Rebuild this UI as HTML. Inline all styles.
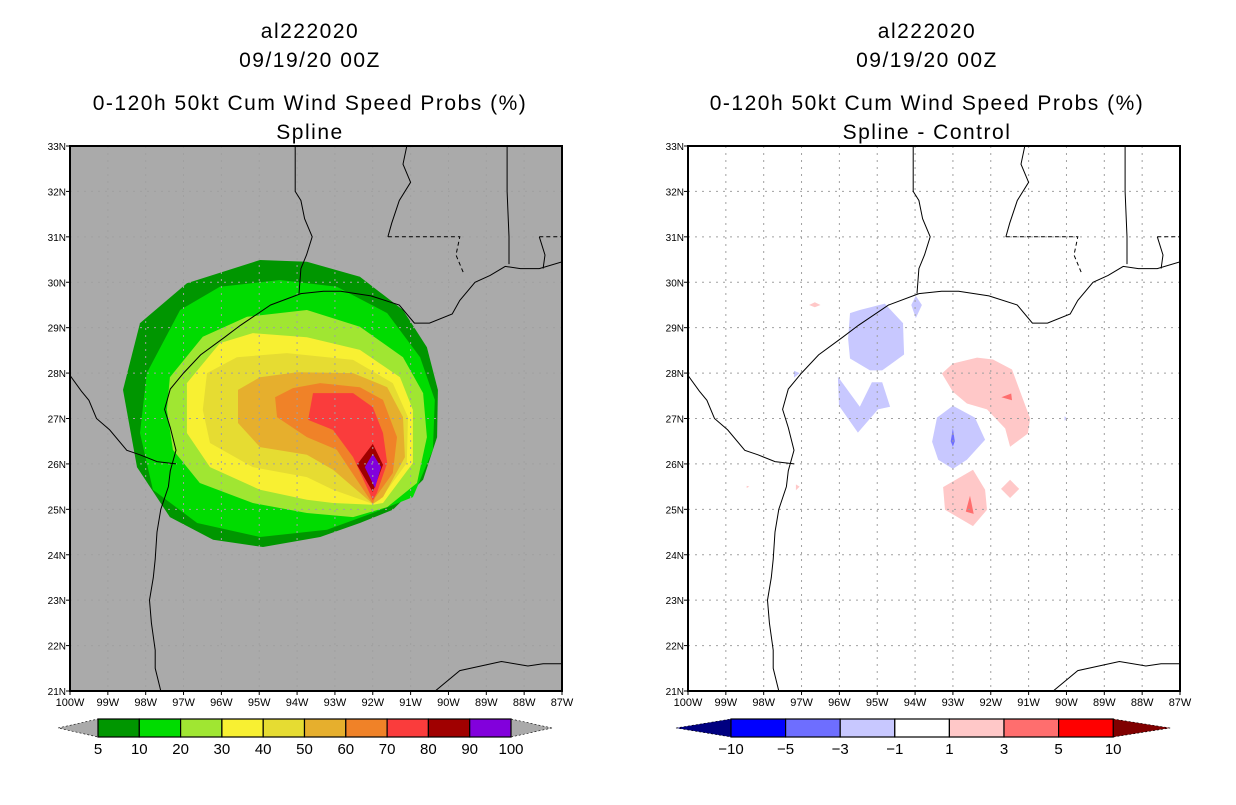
<!DOCTYPE html>
<html><head><meta charset="utf-8"><style>
html,body{margin:0;padding:0;background:#fff;}
svg text{font-family:"Liberation Sans",sans-serif;}
</style></head><body>
<svg id="svg" width="1236" height="800" viewBox="0 0 1236 800" xmlns="http://www.w3.org/2000/svg">
<rect width="1236" height="800" fill="#fff"/>
<g id="left"></g>
<g id="right"></g>
<g font-size="21" text-anchor="middle" letter-spacing="1.5">
<text x="310" y="38">al222020</text><text x="310" y="67">09/19/20 00Z</text>
<text x="310" y="110">0-120h 50kt Cum Wind Speed Probs (%)</text><text x="310" y="139">Spline</text></g>
<g font-size="21" text-anchor="middle" letter-spacing="1.5">
<text x="927" y="38">al222020</text><text x="927" y="67">09/19/20 00Z</text>
<text x="927" y="110">0-120h 50kt Cum Wind Speed Probs (%)</text><text x="927" y="139">Spline - Control</text></g>
<g id="cbL"></g>
<g id="cbR"></g>
</svg>
<script>
const NS="http://www.w3.org/2000/svg";
const lonTicks=[-100,-99,-98,-97,-96,-95,-94,-93,-92,-91,-90,-89,-88,-87];
const latTicks=[21,22,23,24,25,26,27,28,29,30,31,32,33];
const probLevels=[5,10,20,30,40,50,60,70,80,90];
const probColors=["#009600","#00dc00","#a0e632","#f8f032","#e6dc32","#e6af2d","#f08228","#fa3c3c","#a00000","#8200dc"];
const probPolys=[
[[-98.6,27.63],[-98.15,29.1],[-96.91,29.98],[-94.98,30.49],[-93.74,30.45],[-92.34,30.12],[-91.2,29.39],[-90.57,28.57],[-90.28,27.63],[-90.3,26.59],[-90.67,25.65],[-91.47,24.99],[-92.34,24.7],[-93.39,24.39],[-94.9,24.17],[-96.22,24.33],[-97.36,24.83],[-98.23,25.93]],
[[-97.97,28.0],[-97.09,29.39],[-96.04,29.9],[-94.45,30.05],[-92.95,29.9],[-91.62,29.32],[-90.75,28.35],[-90.36,27.41],[-90.41,26.31],[-90.94,25.27],[-92.0,24.92],[-93.21,24.55],[-94.98,24.39],[-96.64,24.7],[-97.81,25.43],[-98.15,26.68]],
[[-97.36,27.91],[-96.49,28.8],[-95.32,29.24],[-93.74,29.39],[-92.34,29.02],[-91.2,28.35],[-90.67,27.56],[-90.57,26.59],[-90.83,25.58],[-91.62,25.05],[-92.52,24.83],[-93.74,24.92],[-95.17,25.14],[-96.57,25.58],[-97.28,26.31],[-97.44,27.19]],
[[-96.91,27.78],[-96.04,28.66],[-95.17,28.88],[-93.74,28.79],[-92.34,28.51],[-91.28,27.91],[-90.94,27.19],[-90.94,26.02],[-91.73,25.14],[-92.0,25.1],[-93.05,25.14],[-93.74,25.21],[-94.98,25.43],[-96.3,25.93],[-96.91,26.68]],
[[-96.38,28.0],[-95.59,28.35],[-94.27,28.44],[-92.52,28.29],[-91.47,27.78],[-91.07,27.03],[-91.1,26.02],[-91.81,25.21],[-92.0,25.12],[-93.05,25.43],[-93.74,25.71],[-95.17,25.93],[-96.3,26.46],[-96.49,27.19]],
[[-95.56,27.63],[-94.98,27.91],[-94.0,28.02],[-92.52,28.0],[-91.62,27.69],[-91.2,27.03],[-91.15,26.15],[-91.73,25.27],[-92.0,25.12],[-93.05,25.87],[-93.74,26.2],[-94.98,26.37],[-95.56,26.9]],
[[-94.58,27.47],[-94.11,27.67],[-93.39,27.78],[-92.34,27.69],[-91.73,27.41],[-91.36,26.59],[-91.47,25.8],[-91.94,25.25],[-92.0,25.12],[-92.95,26.31],[-93.74,26.59],[-94.53,27.03]],
[[-93.58,27.56],[-92.52,27.56],[-92.0,27.25],[-91.73,26.68],[-91.62,26.02],[-91.89,25.36],[-92.0,25.2],[-92.52,26.15],[-93.05,26.75],[-93.71,26.97]],
[[-92.0,26.44],[-91.73,25.98],[-92.0,25.38],[-92.42,25.98]],
[[-92.0,26.22],[-91.78,25.93],[-91.94,25.47],[-92.21,25.93]]
];
const diffLevels=[-10,-5,-3,-1,1,3,5,10];
const diffColors=["#000080","#0000ff","#6e6eff","#c8c8ff","#ffffff","#ffc8c8","#ff6e6e","#ff0000","#800000"];
const diffPolys=[
[3,[[-95.72,29.32],[-95.46,29.39],[-94.8,29.53],[-94.32,29.1],[-94.29,28.41],[-94.87,28.06],[-95.19,28.06],[-95.72,28.32],[-95.77,28.76]]],
[3,[[-96.04,27.92],[-95.46,27.26],[-95.14,27.8],[-94.87,27.8],[-94.66,27.26],[-94.98,27.2],[-95.51,26.69],[-96.01,27.28]]],
[3,[[-93.98,29.7],[-93.82,29.5],[-93.98,29.21],[-94.1,29.5]]],
[3,[[-93.0,27.28],[-92.42,27.02],[-92.15,26.53],[-92.63,26.09],[-93.0,25.89],[-93.39,26.09],[-93.55,26.49],[-93.42,27.02]]],
[2,[[-93.0,26.78],[-92.95,26.5],[-93.0,26.38],[-93.06,26.5]]],
[3,[[-97.2,28.05],[-97.05,28.0],[-97.2,27.9]]],
[5,[[-93.29,27.99],[-93.0,28.21],[-92.36,28.34],[-91.94,28.3],[-91.44,28.08],[-90.96,27.0],[-91.02,26.67],[-91.49,26.38],[-91.62,26.78],[-92.1,27.2],[-92.63,27.33],[-93.0,27.59]]],
[6,[[-91.72,27.47],[-91.46,27.55],[-91.44,27.4]]],
[5,[[-92.47,25.87],[-92.15,25.43],[-92.1,24.99],[-92.47,24.63],[-93.21,24.99],[-93.26,25.49]]],
[6,[[-92.55,25.3],[-92.45,24.9],[-92.66,24.95]]],
[5,[[-91.49,25.65],[-91.25,25.45],[-91.49,25.25],[-91.73,25.45]]],
[5,[[-96.8,29.5],[-96.65,29.56],[-96.5,29.5],[-96.65,29.45]]],
[5,[[-97.15,25.55],[-97.05,25.5],[-97.15,25.42]]],
[5,[[-98.45,25.52],[-98.38,25.5],[-98.45,25.47]]],
[3,[[-90.05,27.05],[-89.98,27.0],[-90.05,26.95]]]
];
const coast=[[-97.6,21.0],[-97.75,21.5],[-97.75,21.9],[-97.85,22.5],[-97.9,23.0],[-97.8,23.5],[-97.75,23.9],[-97.7,24.5],[-97.6,25.0],[-97.4,25.5],[-97.35,25.85],[-97.2,26.3],[-97.35,26.8],[-97.5,27.2],[-97.35,27.65],[-97.0,28.0],[-96.55,28.4],[-95.9,28.8],[-95.5,29.05],[-94.7,29.5],[-93.9,29.75],[-93.3,29.8],[-92.85,29.8],[-92.05,29.7],[-91.3,29.5],[-90.9,29.1],[-90.5,29.1],[-89.9,29.3],[-89.7,29.6],[-89.3,30.0],[-88.9,30.15],[-88.5,30.35],[-88.1,30.3],[-87.6,30.3],[-87,30.45]];
const yucatan=[[-90.35,21],[-89.7,21.45],[-88.6,21.65],[-87.9,21.55],[-87.5,21.6],[-87,21.6]];
const riogrande=[[-100,27.95],[-99.7,27.6],[-99.5,27.4],[-99.3,27.0],[-98.95,26.75],[-98.5,26.3],[-98.15,26.2],[-97.7,26.05],[-97.2,26.0]];
const txla=[[-94.05,33],[-94.05,32],[-93.9,31.8],[-93.8,31.4],[-93.6,31.0],[-93.75,30.6],[-93.9,30.3],[-93.95,29.75]];
const msriver=[[-91.1,33],[-91.2,32.6],[-91.0,32.2],[-91.3,31.8],[-91.5,31.3],[-91.6,31.0]];
const lams=[[-91.6,31],[-89.7,31],[-89.8,30.6],[-89.6,30.2]];
const msal=[[-88.45,33],[-88.45,32],[-88.4,31],[-88.4,30.4]];
const alfl=[[-87.6,31],[-87,31]];
const alfl2=[[-87.6,31],[-87.45,30.6],[-87.5,30.3]];

function mk(par,tag,attrs){const e=document.createElementNS(NS,tag);for(const k in attrs)e.setAttribute(k,attrs[k]);par.appendChild(e);return e;}
function makePanel(g,x0,fill,polys,isDiff){
  const W=492,y0=146,H=545;
  const X=lon=>x0+(lon+100)/13*W;
  const Y=lat=>y0+(33-lat)/12*H;
  const pts=p=>p.map(q=>X(q[0]).toFixed(1)+","+Y(q[1]).toFixed(1)).join(" ");
  const cp="clip"+x0;
  const d=mk(g,"defs",{});const c=mk(d,"clipPath",{id:cp});mk(c,"rect",{x:x0,y:y0,width:W,height:H});
  const bg=mk(g,"rect",{x:x0,y:y0,width:W,height:H,fill:fill});
  
  
  const body=mk(g,"g",{"clip-path":"url(#"+cp+")"});
  polys.forEach((p,i)=>{
    const col=isDiff?diffColors[p[0]]:probColors[i];
    const poly=isDiff?p[1]:p;
    const e=mk(body,"polygon",{points:pts(poly),fill:col});
    
    
  });
  lonTicks.slice(1,-1).forEach(l=>{const e=mk(body,"line",{x1:X(l),x2:X(l),y1:y0,y2:y0+H,stroke:"#a0a0a0","stroke-dasharray":"2,5"});
    });
  latTicks.slice(1,-1).forEach(l=>{const e=mk(body,"line",{x1:x0,x2:x0+W,y1:Y(l),y2:Y(l),stroke:"#a0a0a0","stroke-dasharray":"2,5"});
    });
  [[coast,""],[yucatan,""],[riogrande,""],[txla,""],[msriver,""],[lams,"4,3"],[msal,""],[alfl,"4,3"],[alfl2,""]].forEach(([l,da])=>{
    const e=mk(body,"polyline",{points:pts(l),fill:"none",stroke:"#000","stroke-width":1,"stroke-dasharray":da});
    });
  const fr=mk(g,"rect",{x:x0,y:y0,width:W,height:H,fill:"none",stroke:"#000","stroke-width":2});
  
  lonTicks.forEach(l=>{mk(g,"line",{x1:X(l),x2:X(l),y1:y0+H,y2:y0+H+4,stroke:"#000"});
    const t=mk(g,"text",{x:X(l),y:y0+H+15,"font-size":11,"text-anchor":"middle"});t.textContent=Math.abs(l)+"W";
    });
  latTicks.forEach(l=>{mk(g,"line",{x1:x0-4,x2:x0,y1:Y(l),y2:Y(l),stroke:"#000"});
    const t=mk(g,"text",{x:x0-4,y:Y(l)+4,"font-size":10,"text-anchor":"end"});t.textContent=l+"N";
    });
}
makePanel(document.getElementById("left"),70,"#aaaaaa",probPolys,false);
makePanel(document.getElementById("right"),688,"#ffffff",diffPolys,true);

function colorbar(g,x0,bw,labels,colors,triL,triR,triColL,triColR){
  const y=719,h=18;
  const n=colors.length;
  const a=mk(g,"polygon",{points:`${x0-triL},${y+h/2} ${x0},${y} ${x0},${y+h}`,fill:triColL,stroke:"#000","stroke-dasharray":"2,2","stroke-width":0.6});
  
  const xe=x0+n*bw;
  const b=mk(g,"polygon",{points:`${xe+triR},${y+h/2} ${xe},${y} ${xe},${y+h}`,fill:triColR,stroke:"#000","stroke-dasharray":"2,2","stroke-width":0.6});
  
  colors.forEach((c,i)=>{const r=mk(g,"rect",{x:x0+i*bw,y:y,width:bw,height:h,fill:c,stroke:"#000","stroke-width":1.2});
    });
  labels.forEach((l,i)=>{const t=mk(g,"text",{x:x0+i*bw,y:y+h+17,"font-size":15,"text-anchor":"middle"});t.textContent=String(l).replace("-","\u2212");
    });
}
colorbar(document.getElementById("cbL"),98,41.3,probLevels.concat([100]),probColors,40,41,"#aaaaaa","#aaaaaa");
colorbar(document.getElementById("cbR"),731,54.6,diffLevels,diffColors.slice(1,-1),55,57,diffColors[0],diffColors[8]);
</script>
</body></html>
